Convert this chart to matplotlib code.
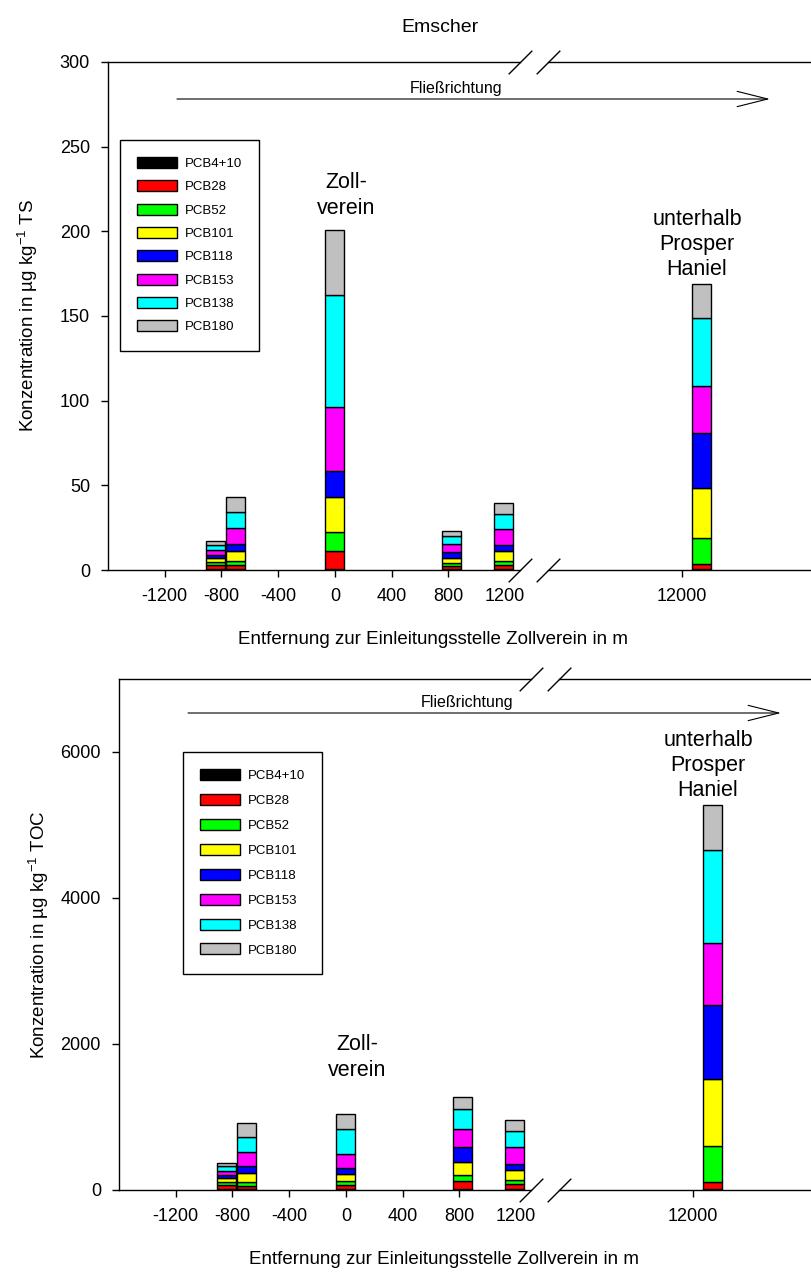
import matplotlib
matplotlib.use("Agg")
import matplotlib.pyplot as plt
from matplotlib.patches import Patch, FancyArrowPatch

plt.rcParams['font.family'] = ['Liberation Sans', 'DejaVu Sans']
plt.rcParams['mathtext.default'] = 'regular'
plt.rcParams['axes.unicode_minus'] = False

# -------------------------------
# data
# -------------------------------
congeners = ["PCB4+10", "PCB28", "PCB52", "PCB101", "PCB118", "PCB153", "PCB138", "PCB180"]
colors = ["#000000", "#ff0000", "#00ff00", "#ffff00", "#0000ff", "#ff00ff", "#00ffff", "#c0c0c0"]

# sampling points (m from Zollverein)
positions = [-840, -700, 0, 820, 1190, 12135]
bar_width = 135

# ug/kg TS
ts_pcb4_10 = [0.4, 0.4, 0.5, 0.4, 0.6, 0.3]
ts_pcb28 = [2.6, 2.4, 10.5, 2.0, 2.5, 3.0]
ts_pcb52 = [1.9, 2.7, 11.4, 1.6, 2.4, 15.8]
ts_pcb101 = [2.0, 5.9, 20.7, 2.9, 5.9, 29.3]
ts_pcb118 = [2.2, 4.0, 15.2, 3.9, 3.4, 32.5]
ts_pcb153 = [2.9, 9.2, 38.0, 4.4, 9.2, 27.6]
ts_pcb138 = [2.8, 9.8, 66.3, 5.1, 9.1, 40.5]
ts_pcb180 = [2.1, 8.9, 38.0, 2.7, 6.3, 19.7]

# ug/kg TOC
toc_pcb4_10 = [14, 14, 14, 14, 14, 10]
toc_pcb28 = [59, 45, 48, 109, 68, 95]
toc_pcb52 = [41, 55, 58, 82, 55, 498]
toc_pcb101 = [46, 123, 105, 174, 137, 918]
toc_pcb118 = [41, 92, 80, 214, 82, 1013]
toc_pcb153 = [59, 196, 190, 243, 229, 854]
toc_pcb138 = [69, 205, 345, 274, 227, 1270]
toc_pcb180 = [37, 184, 200, 168, 147, 620]

ts_series = [ts_pcb4_10, ts_pcb28, ts_pcb52, ts_pcb101, ts_pcb118, ts_pcb153, ts_pcb138, ts_pcb180]
toc_series = [toc_pcb4_10, toc_pcb28, toc_pcb52, toc_pcb101, toc_pcb118, toc_pcb153, toc_pcb138, toc_pcb180]

left_ticks = [-1200, -800, -400, 0, 400, 800, 1200]
right_ticks = [12000]

W, H = 812, 1272
fig = plt.figure(figsize=(W / 100, H / 100), dpi=100)


def rect(x0, y0, x1, y1):
    return [x0 / W, 1 - y1 / H, (x1 - x0) / W, (y1 - y0) / H]


def panel(x0, y0, y1, series, ymax, yticks, unit, leg_xy, leg_spacing, arrow_y, labels_off):
    axL = fig.add_axes(rect(x0, y0, x0 + 412, y1))
    axR = fig.add_axes(rect(x0 + 440, y0, x0 + 722, y1))
    for ax in (axL, axR):
        bottom = [0] * len(positions)
        for vals, c in zip(series, colors):
            ax.bar(positions, vals, width=bar_width, bottom=bottom, color=c,
                   edgecolor='k', linewidth=1.0)
            bottom = [b + v for b, v in zip(bottom, vals)]
        ax.set_ylim(0, ymax)
        ax.tick_params(direction='out', length=5, width=1, labelsize=13, pad=8)
        for s in ax.spines.values():
            s.set_linewidth(1.0)
    totals = bottom

    axL.set_xlim(-1600, 1306)
    axR.set_xlim(11055, 13044)
    axL.spines['right'].set_visible(False)
    axR.spines['left'].set_visible(False)
    axR.tick_params(left=False, labelleft=False)
    axL.set_xticks(left_ticks)
    axL.xaxis.get_major_ticks()[-1].tick1line.set_visible(False)
    axR.set_xticks(right_ticks)
    axL.set_yticks(yticks)

    # break marks
    kw = dict(marker=[(-1, -1), (1, 1)], markersize=17, linestyle='none',
              color='k', mec='k', mew=1, clip_on=False)
    axL.plot([1, 1], [0, 1], transform=axL.transAxes, **kw)
    axR.plot([0, 0], [0, 1], transform=axR.transAxes, **kw)

    fig.text((x0 - 80) / W, 1 - (y0 + y1) / 2 / H,
             'Konzentration in µg kg$^{-1}$ ' + unit,
             rotation=90, ha='center', va='center', fontsize=13.5)
    fig.text((x0 + 325) / W, 1 - (y1 + 70) / H,
             'Entfernung zur Einleitungsstelle Zollverein in m',
             ha='center', va='center', fontsize=13.5)

    # flow direction
    ay = 1 - arrow_y / H
    fig.add_artist(FancyArrowPatch(((x0 + 69) / W, ay), ((x0 + 662) / W, ay),
                                   transform=fig.transFigure,
                                   arrowstyle='->,head_length=2.2,head_width=0.55',
                                   mutation_scale=10, lw=0.8, color='k',
                                   shrinkA=0, shrinkB=0))
    fig.text((x0 + 348) / W, ay + 3 / H, 'Fließrichtung', ha='center', va='bottom', fontsize=11.5)

    axL.annotate('Zoll-\nverein', xy=(positions[2], totals[2]), xytext=(8, labels_off[0]),
                 textcoords='offset points', ha='center', va='bottom', fontsize=15.5,
                 linespacing=1.3)
    axR.annotate('unterhalb\nProsper\nHaniel', xy=(positions[5], totals[5]),
                 xytext=(-3, labels_off[1]), textcoords='offset points',
                 ha='center', va='bottom', fontsize=15.5, linespacing=1.25, annotation_clip=False)

    handles = [Patch(facecolor=c, edgecolor='k', linewidth=1.0) for c in colors]
    axL.legend(handles, congeners, loc='upper left',
               bbox_to_anchor=(leg_xy[0] / W, 1 - leg_xy[1] / H),
               bbox_transform=fig.transFigure, fontsize=9.5, frameon=True,
               fancybox=False, edgecolor='k', framealpha=1, borderaxespad=0,
               handlelength=3.0, handleheight=0.9, handletextpad=0.6,
               labelspacing=leg_spacing, borderpad=1.3)
    axL.get_legend().get_frame().set_linewidth(1.0)
    return axL, axR


panel(108, 62, 570, ts_series, 300, [0, 50, 100, 150, 200, 250, 300], 'TS',
      (120, 140), 0.78, 99, (8, 3))
panel(119, 679, 1190, toc_series, 7000, [0, 2000, 4000, 6000], 'TOC',
      (183, 752), 0.9, 713, (24, 3))

fig.text(440 / W, 1 - 27 / H, 'Emscher', ha='center', va='center', fontsize=14)

fig.savefig('out.png', dpi=100)
